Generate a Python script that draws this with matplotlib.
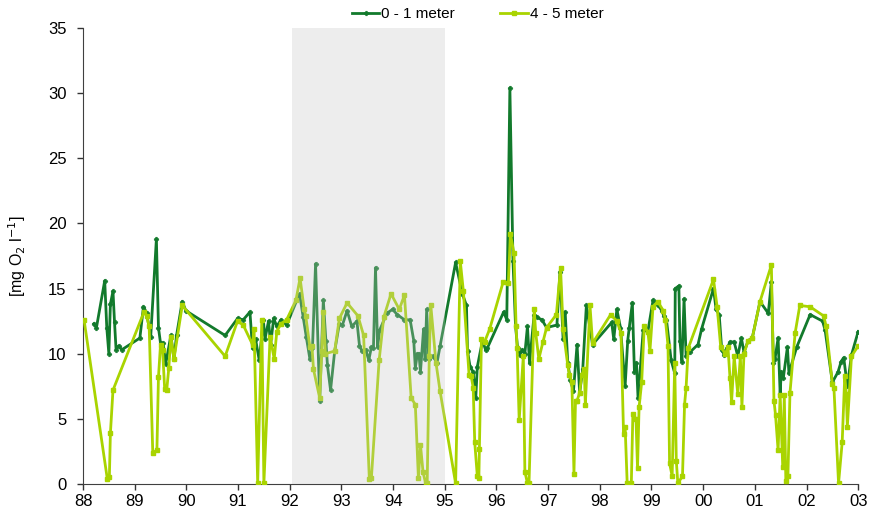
import matplotlib
matplotlib.use("Agg")
import matplotlib.pyplot as plt
import numpy as np

plt.rcParams['font.family'] = ['Liberation Sans', 'DejaVu Sans']

# decimal years (88 = 1988, 100 = 2000) and oxygen in mg O2/l
years_0_1 = [88.21, 88.26, 88.42, 88.46, 88.50, 88.53, 88.58, 88.61, 88.64, 88.69, 88.75,
             89.10, 89.17, 89.23, 89.31, 89.42, 89.46, 89.50, 89.55, 89.60, 89.70, 89.76,
             89.81, 89.92, 89.99, 90.75, 90.99, 91.10, 91.23, 91.28, 91.34, 91.41, 91.49,
             91.52, 91.59, 91.63, 91.69, 91.75, 91.83, 91.94, 92.19, 92.26, 92.32, 92.39,
             92.44, 92.50, 92.58, 92.65, 92.70, 92.73, 92.79, 92.87, 92.96, 93.02, 93.11,
             93.20, 93.30, 93.35, 93.40, 93.47, 93.53, 93.58, 93.62, 93.66, 93.70, 93.74,
             93.88, 93.99, 94.08, 94.22, 94.33, 94.40, 94.43, 94.47, 94.50, 94.53, 94.59,
             94.62, 94.65, 94.69, 94.77, 94.85, 94.91, 95.21, 95.34, 95.42, 95.44, 95.49,
             95.55, 95.60, 95.63, 95.73, 95.79, 95.82, 96.14, 96.20, 96.26, 96.32, 96.37,
             96.41, 96.46, 96.50, 96.55, 96.60, 96.64, 96.73, 96.78, 96.88, 96.97, 97.17,
             97.23, 97.29, 97.33, 97.38, 97.43, 97.49, 97.56, 97.61, 97.67, 97.74, 97.86,
             98.23, 98.27, 98.33, 98.40, 98.49, 98.54, 98.57, 98.63, 98.67, 98.71, 98.74,
             98.84, 98.93, 99.03, 99.13, 99.20, 99.24, 99.29, 99.38, 99.45, 99.46, 99.53,
             99.55, 99.59, 99.63, 99.67, 99.74, 99.90, 99.97, 100.20, 100.25, 100.31,
             100.36, 100.41, 100.46, 100.52, 100.60, 100.67, 100.74, 100.79, 100.87,
             100.95, 101.10, 101.26, 101.32, 101.36, 101.39, 101.45, 101.49, 101.51,
             101.55, 101.63, 101.66, 101.81, 102.07, 102.31, 102.36, 102.50, 102.61,
             102.67, 102.72, 102.79, 102.87, 103.00]
oxy_0_1 = [12.3, 12.0, 15.6, 12.0, 10.0, 13.8, 14.8, 12.4, 10.3, 10.6, 10.3,
           11.2, 13.6, 13.15, 11.3, 18.8, 12.0, 10.8, 10.8, 9.2, 11.4, 9.6,
           11.4, 14.0, 13.3, 11.4, 12.7, 12.6, 13.2, 10.4, 11.1, 9.5, 12.6,
           11.1, 12.5, 10.7, 12.7, 12.1, 12.6, 12.2, 14.6, 12.8, 11.3, 9.6,
           10.4, 16.9, 6.4, 14.1, 11.0, 9.1, 7.2, 10.2, 12.3, 12.2, 13.3,
           12.1, 12.5, 10.6, 10.2, 10.3, 9.5, 10.5, 10.4, 16.6, 10.5, 11.8,
           13.1, 13.4, 13.0, 12.6, 12.6, 11.0, 8.9, 10.0, 10.0, 8.6, 11.9,
           9.6, 13.4, 9.6, 9.8, 9.3, 10.6, 17.0, 14.6, 13.7, 10.2, 9.0,
           8.6, 6.6, 9.0, 11.0, 10.3, 10.4, 13.2, 12.6, 30.4, 17.1, 12.1,
           10.4, 9.9, 10.3, 10.0, 12.1, 9.3, 13.0, 12.8, 12.6, 12.0, 12.2,
           16.3, 11.1, 13.2, 9.3, 8.0, 7.1, 10.7, 7.0, 8.8, 13.7, 10.7,
           12.4, 11.1, 13.4, 12.0, 7.5, 11.0, 12.0, 13.9, 8.6, 9.3, 6.6,
           11.8, 11.7, 14.1, 13.7, 13.3, 12.9, 12.6, 9.5, 8.5, 15.0, 15.2,
           11.0, 9.4, 14.2, 9.8, 10.1, 10.7, 11.9, 15.0, 13.4, 13.0,
           10.3, 9.9, 10.4, 10.9, 10.9, 9.8, 11.2, 10.1, 11.0,
           11.2, 14.0, 13.1, 15.5, 9.3, 9.6, 11.2, 6.9, 8.6,
           8.1, 10.5, 8.5, 10.5, 13.0, 12.5, 11.8, 7.8, 8.6,
           9.4, 9.7, 7.5, 9.9, 11.7]

years_4_5 = [88.02, 88.47, 88.51, 88.53, 88.58, 89.18, 89.23, 89.28, 89.35, 89.43, 89.46,
             89.50, 89.54, 89.58, 89.62, 89.66, 89.70, 89.76, 89.92, 90.75, 90.99, 91.10,
             91.28, 91.31, 91.38, 91.46, 91.50, 91.62, 91.70, 91.75, 91.83, 91.94, 92.12,
             92.20, 92.28, 92.31, 92.39, 92.43, 92.46, 92.58, 92.62, 92.65, 92.69, 92.87,
             92.96, 93.11, 93.32, 93.43, 93.54, 93.58, 93.73, 93.82, 93.96, 94.12, 94.22,
             94.35, 94.43, 94.49, 94.53, 94.58, 94.63, 94.66, 94.70, 94.73, 94.83, 94.91,
             95.21, 95.30, 95.36, 95.47, 95.51, 95.55, 95.58, 95.63, 95.66, 95.67, 95.71,
             95.77, 95.87, 96.13, 96.23, 96.27, 96.34, 96.38, 96.40, 96.44, 96.52, 96.55,
             96.60, 96.63, 96.73, 96.76, 96.82, 96.90, 96.97, 97.16, 97.24, 97.29, 97.38,
             97.41, 97.46, 97.50, 97.53, 97.56, 97.61, 97.65, 97.70, 97.72, 97.81, 97.86,
             98.21, 98.33, 98.41, 98.46, 98.49, 98.53, 98.61, 98.64, 98.70, 98.73, 98.76,
             98.81, 98.86, 98.93, 98.97, 99.03, 99.12, 99.23, 99.27, 99.32, 99.35, 99.40,
             99.45, 99.48, 99.51, 99.60, 99.64, 99.67, 99.71, 100.20, 100.27, 100.34,
             100.43, 100.48, 100.52, 100.55, 100.60, 100.67, 100.72, 100.75, 100.79,
             100.87, 100.95, 101.10, 101.32, 101.37, 101.40, 101.45, 101.49, 101.54,
             101.57, 101.60, 101.64, 101.68, 101.78, 101.87, 102.07, 102.33, 102.38,
             102.50, 102.53, 102.62, 102.69, 102.74, 102.77, 102.79, 102.87, 103.00]
oxy_4_5 = [12.6, 0.4, 0.5, 3.9, 7.2, 13.2, 12.9, 12.1, 2.4, 2.6, 8.2,
           10.7, 10.3, 7.3, 7.2, 8.9, 11.3, 9.6, 13.7, 9.8, 12.5, 12.2,
           10.7, 11.9, 0.05, 12.6, 0.05, 11.3, 9.6, 11.7, 12.3, 12.6, 14.1,
           15.8, 13.4, 12.9, 10.5, 10.6, 8.8, 6.6, 10.2, 13.2, 10.0, 10.2,
           12.7, 13.9, 12.9, 11.4, 0.4, 0.45, 9.5, 12.8, 14.6, 13.4, 14.5,
           6.6, 6.1, 0.45, 3.0, 0.9, 0.05, 0.05, 9.8, 13.7, 9.3, 7.1,
           0.05, 17.1, 14.8, 8.4, 8.3, 7.4, 3.2, 0.6, 0.45, 2.7, 11.1,
           10.9, 11.9, 15.5, 15.4, 19.2, 17.7, 12.1, 10.4, 4.9, 9.8, 0.95,
           0.05, 0.05, 13.4, 11.6, 9.6, 10.9, 12.0, 13.0, 16.6, 11.9, 9.1,
           8.4, 7.8, 0.8, 6.4, 6.4, 7.0, 8.4, 8.8, 6.1, 13.7, 10.8,
           13.0, 12.5, 11.6, 3.8, 4.4, 0.05, 0.05, 5.4, 5.0, 1.2, 5.9,
           7.8, 12.1, 11.7, 10.2, 13.6, 14.0, 13.3, 12.6, 10.6, 1.6, 0.6,
           9.3, 1.8, 0.05, 0.6, 6.1, 7.4, 10.4, 15.7, 13.6, 10.5,
           10.0, 10.5, 8.1, 6.3, 9.8, 6.9, 9.8, 5.9, 10.0,
           11.0, 11.2, 14.0, 16.8, 6.4, 5.3, 2.6, 6.8, 1.3,
           6.8, 0.2, 0.6, 7.0, 11.6, 13.7, 13.6, 12.9, 12.1,
           7.7, 7.4, 0.05, 3.2, 8.3, 6.9, 4.4, 9.8, 10.6]

tick_years = list(range(88, 104))
tick_labels = ['%02d' % (y % 100) for y in tick_years]
shade_span = (92.05, 95.0)

fig = plt.figure(figsize=(8.71, 5.16), dpi=100)
ax = fig.add_axes([0.0953, 0.062, 0.89, 0.884])

ax.plot(years_0_1, oxy_0_1, color='#127a2c', lw=2.0, marker='P', ms=3.2,
        mew=0.5, label='0 - 1 meter', zorder=2)
ax.plot(years_4_5, oxy_4_5, color='#a9d400', lw=2.0, marker='s', ms=3.2,
        label='4 - 5 meter', zorder=3)

# grey band drawn over the lines so they look faded inside it
ax.axvspan(shade_span[0], shade_span[1], color='#c6c6c6', alpha=0.3, lw=0, zorder=4)

ax.set_xlim(88, 103)
ax.set_ylim(0, 35)
ax.set_xticks(tick_years)
ax.set_xticklabels(tick_labels)
ax.set_yticks(np.arange(0, 36, 5))
ax.tick_params(labelsize=12, direction='out', length=4, width=1, colors='#333333')
ax.tick_params(axis='both', labelcolor='black')
ax.tick_params(axis='y', pad=8)
for s in ['top', 'right']:
    ax.spines[s].set_visible(False)
for s in ['left', 'bottom']:
    ax.spines[s].set_color('#404040')
ax.set_ylabel('[mg O$_2$ l$^{-1}$]', fontsize=11.5, labelpad=14)

ax.legend(loc='center', bbox_to_anchor=(0.509, 1.03), ncol=2, frameon=False,
          fontsize=11, handlelength=1.8, handletextpad=0.1, columnspacing=3)

fig.savefig('out.png', dpi=100)
